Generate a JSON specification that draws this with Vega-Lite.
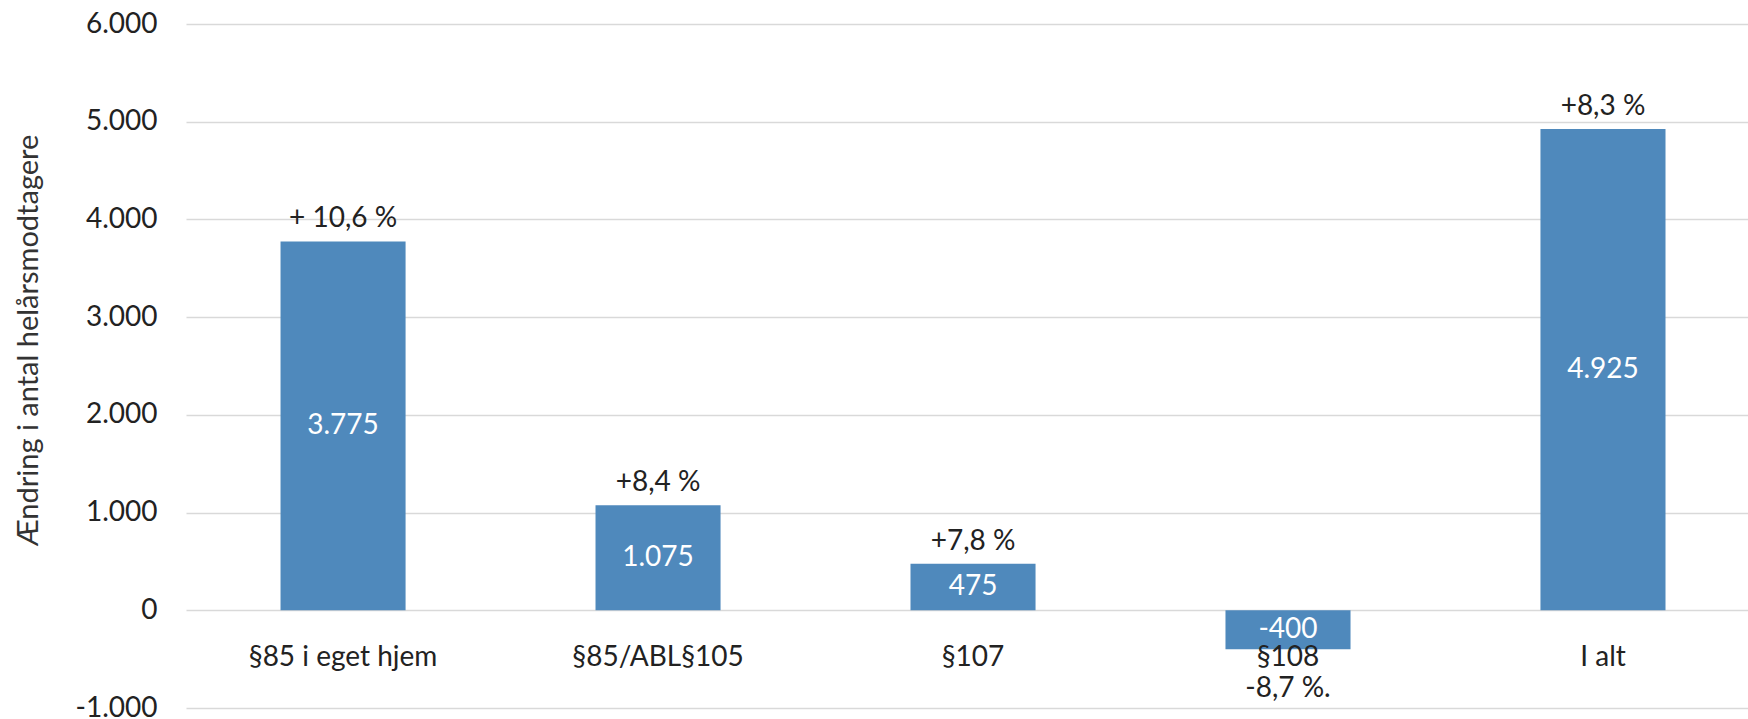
{
  "$schema": "https://vega.github.io/schema/vega-lite/v6.json",
  "width": 1562,
  "height": 684,
  "autosize": {"type": "none"},
  "padding": {"left": 186, "top": 24, "right": 0, "bottom": 11},
  "background": "white",
  "config": {
    "locale": {"number": {"decimal": ",", "thousands": ".", "grouping": [3], "currency": ["", " kr."], "minus": "-"}},
    "view": {"stroke": null},
    "font": "Lato"
  },
  "data": {"values": [
    {"kategori": "§85 i eget hjem", "value": 3775, "pct": "+ 10,6 %"},
    {"kategori": "§85/ABL§105", "value": 1075, "pct": "+8,4 %"},
    {"kategori": "§107", "value": 475, "pct": "+7,8 %"},
    {"kategori": "§108", "value": -400, "pct": "-8,7 %."},
    {"kategori": "I alt", "value": 4925, "pct": "+8,3 %"}
  ]},
  "encoding": {
    "x": {
      "field": "kategori", "type": "nominal", "sort": null,
      "scale": {"paddingInner": 0.603, "paddingOuter": 0.281, "align": 0.534},
      "axis": {"title": null, "labelAngle": 0, "labelLimit": 0, "domain": false, "ticks": false, "tickSize": 0, "labelPadding": 33, "labelFontSize": 28, "labelColor": "#222222", "labelFont": "Lato", "offset": -97.7, "zindex": 1}
    }
  },
  "layer": [
    {
      "mark": {"type": "bar", "color": "#4f89bc"},
      "encoding": {
        "y": {
          "field": "value", "type": "quantitative",
          "scale": {"domain": [-1000, 6000], "nice": false, "zero": false},
          "axis": {
            "title": "Ændring i antal helårsmodtagere",
            "values": [-1000, 0, 1000, 2000, 3000, 4000, 5000, 6000],
            "format": ",d", "domain": false, "ticks": false, "tickSize": 0,
            "labelPadding": 29, "labelFontSize": 28, "labelColor": "#222222", "labelFont": "Lato",
            "grid": true, "gridColor": "#d9d9d9", "gridWidth": 1.5,
            "titleFont": "Lato", "titleFontSize": 29, "titleFontWeight": "normal", "titleColor": "#333333",
            "titleX": -158, "titleY": 316, "titleAngle": -90, "titleAlign": "center", "titleBaseline": "middle"
          }
        }
      }
    },
    {
      "transform": [{"calculate": "datum.value / 2", "as": "mid"}],
      "mark": {"type": "text", "color": "white", "fontSize": 28, "font": "Lato", "baseline": "middle", "align": "center"},
      "encoding": {
        "y": {"field": "mid", "type": "quantitative"},
        "text": {"field": "value", "type": "quantitative", "format": ",d"}
      }
    },
    {
      "transform": [{"filter": "datum.value > 0"}],
      "mark": {"type": "text", "color": "#222222", "fontSize": 28, "font": "Lato", "baseline": "alphabetic", "align": "center", "dy": -14},
      "encoding": {
        "y": {"field": "value", "type": "quantitative"},
        "text": {"field": "pct", "type": "nominal"}
      }
    },
    {
      "transform": [{"filter": "datum.value < 0"}],
      "mark": {"type": "text", "color": "#222222", "fontSize": 28, "font": "Lato", "baseline": "middle", "align": "center", "dy": 40},
      "encoding": {
        "y": {"field": "value", "type": "quantitative"},
        "text": {"field": "pct", "type": "nominal"}
      }
    }
  ]
}
